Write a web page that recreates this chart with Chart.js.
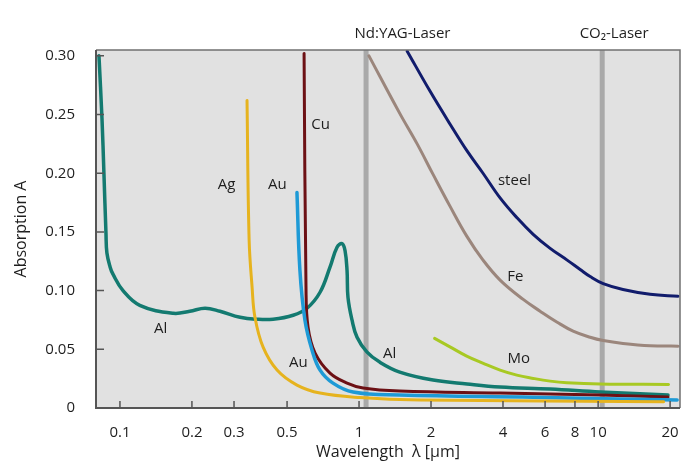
<!DOCTYPE html>
<html>
<head>
<meta charset="utf-8">
<title>Absorption vs wavelength</title>
<script src="https://cdn.jsdelivr.net/npm/chart.js@4"></script>
<style>
  body { margin: 0; background: #fff; }
  canvas { display: block; }
</style>
</head>
<body>
<canvas id="chart" width="692" height="472"></canvas>
<script>
// Values: wavelength in µm, absorption A
const alWave = [0.0817, 0.0841, 0.0857, 0.0874, 0.0882, 0.0910, 0.0935, 0.103, 0.121, 0.167, 0.196, 0.227, 0.262, 0.318, 0.374, 0.437, 0.530, 0.606, 0.687, 0.756, 0.809, 0.849, 0.874, 0.891, 0.899, 0.935, 0.981, 1.08, 1.22, 1.48, 2.04, 2.83, 3.89, 6.30, 10.2, 19.6];
const alAbs  = [0.300, 0.247, 0.200, 0.149, 0.132, 0.120, 0.114, 0.100, 0.0875, 0.0807, 0.0824, 0.0850, 0.0824, 0.0773, 0.0756, 0.0756, 0.0790, 0.0850, 0.0986, 0.120, 0.137, 0.140, 0.134, 0.117, 0.0943, 0.0748, 0.0603, 0.0476, 0.0391, 0.0306, 0.0238, 0.0204, 0.0178, 0.0161, 0.0136, 0.0110];

const agWave = [0.340, 0.347, 0.357, 0.367, 0.397, 0.454, 0.550, 0.687, 1.01, 1.80, 18.8];
const agAbs  = [0.262, 0.143, 0.103, 0.0773, 0.0518, 0.0323, 0.0195, 0.0127, 0.0089, 0.0068, 0.0054];

const auWave = [0.550, 0.566, 0.594, 0.636, 0.687, 0.778, 0.944, 1.48, 5.35, 21.4];
const auAbs  = [0.1835, 0.117, 0.0748, 0.0493, 0.0323, 0.0212, 0.0136, 0.0110, 0.0091, 0.0068];

const cuWave = [0.589, 0.600, 0.612, 0.655, 0.756, 0.891, 1.04, 1.48, 3.89, 10.2, 19.6];
const cuAbs  = [0.302, 0.103, 0.0688, 0.0467, 0.0297, 0.0212, 0.0170, 0.0144, 0.0127, 0.0110, 0.0093];

const steelWave = [1.59, 1.98, 2.40, 2.83, 3.30, 3.89, 4.58, 5.35, 6.30, 7.42, 8.41, 9.26, 10.5, 12.7, 16.5, 21.6];
const steelAbs  = [0.304, 0.270, 0.242, 0.219, 0.200, 0.179, 0.162, 0.148, 0.136, 0.126, 0.118, 0.112, 0.106, 0.101, 0.0969, 0.0952];

const feWave = [1.10, 1.48, 1.75, 2.04, 2.40, 2.83, 3.30, 3.89, 4.86, 5.72, 6.74, 7.86, 9.26, 10.5, 12.7, 16.5, 21.6];
const feAbs  = [0.300, 0.251, 0.225, 0.199, 0.172, 0.146, 0.126, 0.109, 0.0925, 0.0825, 0.0731, 0.0655, 0.0603, 0.0575, 0.0550, 0.0530, 0.0527];

const moWave = [2.07, 2.40, 2.82, 3.31, 3.89, 4.57, 5.36, 6.30, 7.40, 10.2, 19.7];
const moAbs  = [0.0593, 0.0521, 0.0442, 0.0380, 0.0323, 0.0280, 0.0252, 0.0229, 0.0215, 0.0204, 0.0201];

// laser wavelengths (vertical bands) and their captions
const laserWave = [1.07, 10.4];
const laserText = ['Nd:YAG-Laser', 'CO\u2082-Laser'];
const laserTextWave = [1.52, 11.67];

// curve captions
const labelText = ['Al', 'Ag', 'Au', 'Cu', 'Au', 'Al', 'steel', 'Fe', 'Mo'];
const labelWave = [0.148, 0.279, 0.455, 0.691, 0.557, 1.344, 4.47, 4.50, 4.66];
const labelAbs  = [0.0677, 0.190, 0.190, 0.241, 0.0389, 0.0465, 0.194, 0.112, 0.0416];

// axis ticks
const xTickVals = [0.1, 0.2, 0.3, 0.5, 1, 2, 4, 6, 8, 10, 20];
const xTickLabels = ['0.1', '0.2', '0.3', '0.5', '1', '2', '4', '6', '8', '10', '20'];
const yTickVals = [0, 0.05, 0.10, 0.15, 0.20, 0.25, 0.30];
const yTickLabels = ['0', '0.05', '0.10', '0.15', '0.20', '0.25', '0.30'];

const FONT = '"Open Sans", "Noto Sans", sans-serif';
const TEXT = '#1e1e1e';

function pts(xs, ys) {
    return xs.map((x, i) => ({ x: x, y: ys[i] }));
}

function curve(label, xs, ys, color, width) {
    return {
        label: label,
        data: pts(xs, ys),
        borderColor: color,
        borderWidth: width,
        borderCapStyle: 'round',
        borderJoinStyle: 'round',
        pointRadius: 0,
        fill: false,
        tension: 0.4
    };
}

function laserBand(wave) {
    return {
        label: 'laser ' + wave,
        data: [{ x: wave, y: 0 }, { x: wave, y: 0.305 }],
        borderColor: '#a9a9a9',
        borderWidth: 5,
        pointRadius: 0,
        fill: false,
        clip: 0
    };
}

// grey plot background, frame, inward ticks and text captions
const decorations = {
    id: 'decorations',
    beforeDraw(chart) {
        const { ctx, chartArea: a } = chart;
        ctx.save();
        ctx.fillStyle = '#e1e1e1';
        ctx.fillRect(a.left, a.top, a.right - a.left, a.bottom - a.top);
        ctx.restore();
    },
    afterDraw(chart) {
        const { ctx, chartArea: a, scales } = chart;
        const xs = scales.x, ys = scales.y;
        ctx.save();

        // frame
        ctx.strokeStyle = '#707070';
        ctx.lineWidth = 1.5;
        ctx.beginPath();
        ctx.moveTo(a.left, a.top);
        ctx.lineTo(a.right, a.top);
        ctx.lineTo(a.right, a.bottom);
        ctx.stroke();
        ctx.strokeStyle = '#555';
        ctx.lineWidth = 2;
        ctx.beginPath();
        ctx.moveTo(a.left, a.top);
        ctx.lineTo(a.left, a.bottom);
        ctx.lineTo(a.right, a.bottom);
        ctx.stroke();

        // ticks pointing into the plot
        ctx.lineWidth = 1.5;
        ctx.beginPath();
        xTickVals.forEach(v => {
            const px = xs.getPixelForValue(v);
            ctx.moveTo(px, a.bottom);
            ctx.lineTo(px, a.bottom - 7);
        });
        yTickVals.slice(1).forEach(v => {
            const py = ys.getPixelForValue(v);
            ctx.moveTo(a.left, py);
            ctx.lineTo(a.left + 8, py);
        });
        ctx.stroke();

        // captions
        ctx.fillStyle = TEXT;
        ctx.font = '15px ' + FONT;
        ctx.textAlign = 'center';
        ctx.textBaseline = 'middle';
        labelText.forEach((t, i) => {
            ctx.fillText(t, xs.getPixelForValue(labelWave[i]), ys.getPixelForValue(labelAbs[i]));
        });
        laserText.forEach((t, i) => {
            ctx.fillText(t, xs.getPixelForValue(laserTextWave[i]), a.top - 16);
        });
        ctx.restore();
    }
};

const ctx = document.getElementById('chart').getContext('2d');
const chart = new Chart(ctx, {
    type: 'line',
    data: {
        datasets: [
            curve('Mo', moWave, moAbs, '#a8c923', 3),
            curve('Fe', feWave, feAbs, '#9b867c', 3),
            curve('steel', steelWave, steelAbs, '#111c6c', 3),
            curve('Ag', agWave, agAbs, '#e6b31e', 3),
            curve('Au', auWave, auAbs, '#1e9ad6', 3.5),
            curve('Cu', cuWave, cuAbs, '#6c1014', 3),
            curve('Al', alWave, alAbs, '#137a70', 3.5),
            laserBand(laserWave[0]),
            laserBand(laserWave[1])
        ]
    },
    options: {
        responsive: false,
        animation: false,
        layout: { padding: { left: 0, right: 12, top: 50, bottom: 0 } },
        plugins: {
            legend: { display: false },
            tooltip: { enabled: false }
        },
        scales: {
            x: {
                type: 'logarithmic',
                min: 0.0794,
                max: 22,
                afterBuildTicks: s => { s.ticks = xTickVals.map(v => ({ value: v })); },
                afterFit: s => { s.height = 64; },
                grid: { display: false },
                border: { display: false },
                ticks: {
                    autoSkip: false,
                    maxRotation: 0,
                    padding: 8,
                    color: TEXT,
                    font: { family: FONT, size: 15 },
                    callback: (v) => xTickLabels[xTickVals.indexOf(v)]
                },
                title: {
                    display: true,
                    text: 'Wavelength  \u03bb [\u00b5m]',
                    color: TEXT,
                    font: { family: FONT, size: 16 },
                    padding: { top: 0, bottom: 10 }
                }
            },
            y: {
                type: 'linear',
                min: 0,
                max: 0.305,
                afterBuildTicks: s => { s.ticks = yTickVals.map(v => ({ value: v })); },
                afterFit: s => { s.width = 96; },
                grid: { display: false },
                border: { display: false },
                ticks: {
                    padding: 13,
                    color: TEXT,
                    font: { family: FONT, size: 15 },
                    callback: (v) => yTickLabels[yTickVals.indexOf(v)]
                },
                title: {
                    display: true,
                    text: 'Absorption A',
                    color: TEXT,
                    font: { family: FONT, size: 16 },
                    padding: { top: 12, bottom: 0 }
                }
            }
        }
    },
    plugins: [decorations]
});
</script>
</body>
</html>
